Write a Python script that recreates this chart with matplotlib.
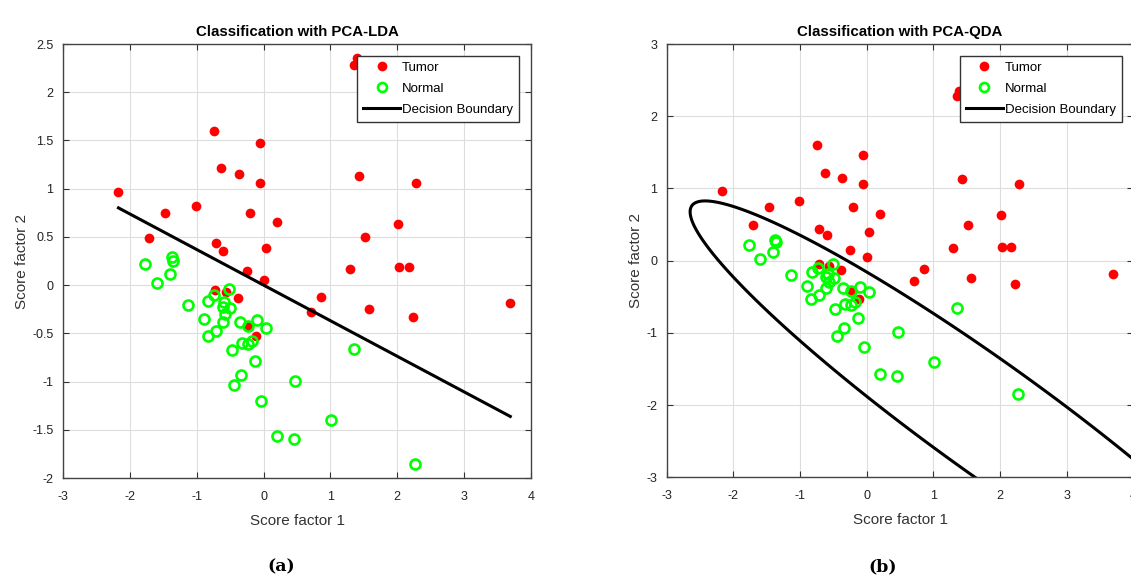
import numpy as np
import matplotlib
matplotlib.use('Agg')
from matplotlib import pyplot as plt
from matplotlib.ticker import FormatStrFormatter
from matplotlib.lines import Line2D

plt.rcParams['font.family'] = ['Liberation Sans', 'DejaVu Sans']
plt.rcParams['axes.unicode_minus'] = False

# PCA scores
tumor_x = [-2.17, -0.745, -0.055, -0.63, -0.37, -0.06, -1.01, -1.47, -0.20, 0.205,
           -1.71, -0.715, -0.60, 0.04, -0.25, 1.39, 1.35, 1.43, 2.28, 2.01,
           1.52, 1.29, 2.03, 2.17, 0.865, 0.71, 1.57, 2.23, 3.69, 0.0,
           -0.72, -0.56, -0.385, -0.235, -0.11]
tumor_y = [0.97, 1.60, 1.47, 1.21, 1.15, 1.06, 0.82, 0.75, 0.75, 0.65,
           0.49, 0.44, 0.35, 0.39, 0.15, 2.35, 2.28, 1.13, 1.06, 0.63,
           0.50, 0.17, 0.19, 0.19, -0.12, -0.28, -0.245, -0.33, -0.185, 0.05,
           -0.05, -0.07, -0.13, -0.42, -0.525]
normal_x = [-1.77, -1.375, -1.36, -1.40, -1.60, -1.135, -0.825, -0.735, -0.51, -0.585,
            -0.61, -0.495, -0.57, -0.895, -0.605, -0.355, -0.095, -0.23, 0.04, -0.83,
            -0.71, -0.33, -0.235, -0.17, -0.475, -0.125, -0.345, -0.44, -0.04, 0.20,
            0.455, 0.475, 1.35, 1.01, 2.27]
normal_y = [0.22, 0.29, 0.255, 0.115, 0.02, -0.205, -0.16, -0.10, -0.04, -0.18,
            -0.23, -0.235, -0.30, -0.35, -0.38, -0.38, -0.36, -0.42, -0.44, -0.525,
            -0.48, -0.595, -0.61, -0.575, -0.67, -0.79, -0.93, -1.04, -1.20, -1.565,
            -1.60, -0.99, -0.66, -1.40, -1.85]

# LDA boundary: y = intercept + slope * x
lda_intercept = 0.0
lda_slope = -0.369

# points traced along the QDA boundary
qda_bx = [-2.62, -2.45, -2.05, -1.55, -1.05, -0.8, -0.3, 0.2, 0.625, 1.0, 2.0, 3.0, 3.95,
          -2.6, -2.35, -2.0, -1.55, -1.025, -0.65, 0.0, 0.8, 1.61]
qda_by = [0.72, 0.83, 0.77, 0.61, 0.40, 0.215, -0.015, -0.27, -0.52, -0.71, -1.355, -2.0, -2.74,
          0.515, 0.10, -0.22, -0.64, -1.08, -1.38, -1.89, -2.44, -3.0]

red = '#ff0000'
green = '#00ff00'


def fit_conic(xs, ys):
    xs = np.asarray(xs)
    ys = np.asarray(ys)
    m = np.column_stack([xs ** 2, xs * ys, ys ** 2, xs, ys, np.ones_like(xs)])
    _, _, vt = np.linalg.svd(m)
    return vt[-1]


def style_axes(ax, title):
    ax.set_title(title, fontweight='bold', fontsize=10.8, pad=6)
    ax.set_xlabel('Score factor 1', fontsize=11, color='#333333', labelpad=8)
    ax.set_ylabel('Score factor 2', fontsize=11, color='#333333', labelpad=2)
    ax.grid(True, color='#dddddd', linewidth=0.8)
    ax.set_axisbelow(True)
    ax.tick_params(direction='in', top=True, right=True, labelsize=9, length=4,
                   color='#333333', labelcolor='#222222')
    ax.tick_params(axis='x', pad=9)
    ax.tick_params(axis='y', pad=7)
    for s in ax.spines.values():
        s.set_color('#444444')
        s.set_linewidth(1.0)
    ax.yaxis.set_major_formatter(FormatStrFormatter('%g'))


def draw_points(ax):
    ax.plot(tumor_x, tumor_y, 'o', color=red, markersize=7, markeredgewidth=0, label='Tumor')
    ax.plot(normal_x, normal_y, 'o', markerfacecolor='none', markeredgecolor=green,
            markersize=7.2, markeredgewidth=1.9, label='Normal')


def add_legend(ax):
    handles = [Line2D([], [], marker='o', linestyle='none', color=red, markersize=7, markeredgewidth=0),
               Line2D([], [], marker='o', linestyle='none', markerfacecolor='none',
                      markeredgecolor=green, markersize=6.5, markeredgewidth=1.9),
               Line2D([], [], color='black', linewidth=2.2)]
    leg = ax.legend(handles, ['Tumor', 'Normal', 'Decision Boundary'], loc='upper right',
                    fontsize=9.5, fancybox=False, framealpha=1, edgecolor='#333333',
                    handlelength=2.8, borderaxespad=0.9, labelspacing=0.65, borderpad=0.45,
                    handletextpad=0.15)
    leg.get_frame().set_linewidth(1.0)


fig = plt.figure(figsize=(11.31, 5.79), dpi=100)
ax1 = fig.add_axes([0.0557, 0.1744, 0.4138, 0.7496])
ax2 = fig.add_axes([0.5895, 0.1756, 0.4127, 0.7484])

# (a) LDA
draw_points(ax1)
all_x = np.array(tumor_x + normal_x)
xl = np.array([all_x.min(), all_x.max()])
ax1.plot(xl, lda_intercept + lda_slope * xl, color='black', linewidth=2.2)
ax1.set_xlim(-3, 4)
ax1.set_ylim(-2, 2.5)
ax1.set_xticks(np.arange(-3, 5, 1))
ax1.set_yticks(np.arange(-2, 2.51, 0.5))
style_axes(ax1, 'Classification with PCA-LDA')
add_legend(ax1)

# (b) QDA
draw_points(ax2)
c = fit_conic(qda_bx, qda_by)
gx, gy = np.meshgrid(np.linspace(-3.2, 4.5, 600), np.linspace(-3.5, 3.2, 600))
gz = c[0] * gx ** 2 + c[1] * gx * gy + c[2] * gy ** 2 + c[3] * gx + c[4] * gy + c[5]
ax2.contour(gx, gy, gz, levels=[0], colors='black', linewidths=2.2)
ax2.set_xlim(-3, 4)
ax2.set_ylim(-3, 3)
ax2.set_xticks(np.arange(-3, 5, 1))
ax2.set_yticks(np.arange(-3, 4, 1))
style_axes(ax2, 'Classification with PCA-QDA')
add_legend(ax2)

fig.text(281 / 1131, 1 - 567 / 579, '(a)', fontsize=12.5, fontweight='bold',
         family='DejaVu Serif', ha='center', va='center')
fig.text(883 / 1131, 1 - 567 / 579, '(b)', fontsize=12.5, fontweight='bold',
         family='DejaVu Serif', ha='center', va='center')

fig.savefig('out.png', dpi=100)
